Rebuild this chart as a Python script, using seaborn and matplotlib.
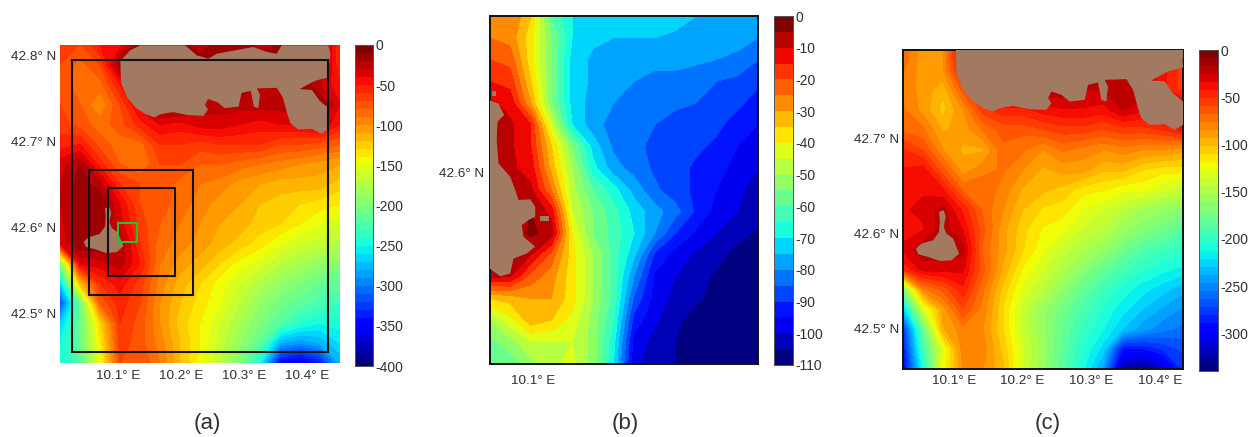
import numpy as np
import matplotlib
matplotlib.use("Agg")
import matplotlib.pyplot as plt
from matplotlib.patches import Polygon, Rectangle
import seaborn as sns

# depth grids, rows north to south, columns west to east (metres)
depth_a = [
 [-60,-70,-50,-45,-10,-10,-10,-30,-10,-10,-25,-20,-10,-10,-60],
 [-70,-85,-70,-15,-10,-10,-10,-10,-10,-10,-10,-10,-10,-10,-60],
 [-75,-85,-85,-50,-15,-10,-10,-10,-10,-10,-25,-30,-10,-30,-50],
 [-70,-80,-100,-70,-35,-10,-10,-25,-25,-25,-25,-25,-20,-10,-40],
 [-65,-75,-85,-75,-55,-40,-45,-35,-35,-40,-45,-40,-40,-30,-50],
 [-55,-50,-75,-85,-85,-60,-60,-65,-60,-60,-60,-70,-70,-75,-80],
 [-35,-20,-55,-80,-90,-70,-70,-80,-80,-85,-90,-95,-100,-105,-110],
 [-30,-15,-25,-60,-70,-70,-85,-90,-95,-105,-110,-115,-115,-115,-125],
 [-30,-15,-10,-40,-70,-75,-85,-95,-105,-110,-120,-125,-130,-135,-140],
 [-35,-10,-10,-35,-65,-80,-90,-100,-110,-115,-125,-130,-140,-150,-160],
 [-40,-10,-10,-20,-60,-85,-95,-105,-115,-125,-135,-150,-160,-165,-175],
 [-200,-40,-35,-25,-50,-90,-105,-115,-130,-145,-155,-170,-180,-190,-195],
 [-270,-120,-60,-45,-65,-95,-115,-130,-145,-160,-175,-190,-200,-210,-215],
 [-320,-210,-80,-55,-70,-100,-120,-135,-150,-170,-190,-205,-215,-225,-230],
 [-270,-210,-130,-60,-75,-100,-125,-140,-160,-180,-200,-220,-240,-250,-245],
 [-250,-210,-140,-65,-75,-95,-120,-140,-165,-190,-215,-280,-290,-280,-260],
 [-250,-220,-150,-70,-70,-90,-120,-145,-170,-200,-250,-350,-365,-340,-280],
]
depth_b = [
 [-25,-25,-35,-60,-70,-72,-72,-72,-72,-73,-75,-76,-76,-78],
 [-25,-27,-38,-55,-70,-74,-75,-75,-75,-76,-76,-77,-77,-80],
 [-20,-22,-38,-55,-72,-76,-77,-77,-78,-78,-79,-80,-82,-85],
 [-15,-17,-35,-55,-72,-76,-78,-80,-82,-82,-83,-85,-86,-89],
 [-9,-12,-30,-55,-72,-77,-80,-82,-83,-84,-85,-87,-89,-92],
 [-9,-9,-15,-45,-70,-78,-82,-84,-85,-87,-87,-89,-92,-95],
 [-9,-9,-15,-35,-55,-72,-81,-84,-86,-88,-89,-91,-95,-98],
 [-9,-9,-12,-32,-50,-68,-78,-82,-86,-88,-91,-93,-97,-100],
 [-9,-9,-9,-25,-48,-60,-68,-77,-84,-88,-91,-95,-99,-102],
 [-9,-9,-5,-12,-45,-55,-63,-72,-78,-83,-91,-97,-100,-103],
 [-9,-9,-4,-7,-40,-55,-62,-70,-80,-90,-96,-100,-103,-106],
 [-9,-9,-10,-22,-38,-50,-62,-74,-91,-97,-101,-103,-107,-108],
 [-9,-10,-22,-28,-38,-50,-62,-80,-96,-100,-103,-106,-108,-109],
 [-35,-33,-30,-30,-38,-50,-62,-86,-97,-102,-104,-107,-109,-110],
 [-50,-42,-32,-35,-42,-52,-65,-92,-99,-104,-107,-109,-110,-110],
 [-57,-52,-45,-45,-45,-52,-68,-97,-102,-105,-109,-110,-110,-110],
 [-60,-58,-52,-46,-44,-52,-70,-99,-102,-105,-109,-110,-110,-110],
]
depth_c = [
 [-70,-90,-85,-30,-20,-20,-20,-20,-20,-20,-20,-20,-20,-30,-40],
 [-75,-90,-85,-40,-20,-20,-20,-20,-20,-20,-20,-20,-20,-40,-55],
 [-80,-88,-100,-65,-25,-20,-20,-20,-20,-25,-25,-25,-20,-40,-55],
 [-75,-88,-105,-85,-55,-45,-45,-38,-35,-35,-38,-25,-32,-25,-20],
 [-70,-75,-95,-90,-75,-65,-65,-60,-55,-55,-60,-55,-55,-50,-40],
 [-50,-60,-85,-95,-95,-70,-75,-85,-75,-80,-85,-80,-85,-85,-90],
 [-42,-38,-65,-90,-80,-75,-85,-95,-90,-90,-100,-100,-110,-115,-115],
 [-35,-35,-42,-70,-70,-80,-95,-100,-105,-115,-118,-125,-125,-135,-140],
 [-35,-32,-22,-45,-70,-85,-102,-112,-115,-128,-135,-145,-155,-160,-165],
 [-38,-35,-20,-35,-65,-90,-108,-120,-125,-138,-145,-158,-168,-175,-185],
 [-32,-20,-20,-22,-70,-90,-110,-125,-140,-150,-160,-175,-188,-195,-200],
 [-50,-30,-30,-32,-65,-95,-120,-135,-150,-165,-180,-192,-203,-210,-215],
 [-170,-80,-65,-45,-75,-105,-130,-145,-162,-180,-195,-208,-218,-226,-235],
 [-230,-135,-90,-60,-80,-110,-140,-160,-175,-190,-205,-218,-230,-240,-248],
 [-280,-180,-95,-80,-85,-110,-140,-160,-180,-198,-212,-230,-243,-252,-258],
 [-290,-195,-130,-80,-80,-105,-135,-158,-182,-205,-225,-290,-290,-280,-270],
 [-300,-210,-125,-85,-85,-100,-135,-160,-185,-210,-242,-325,-335,-315,-280],
]

# coastlines (lon, lat)
mainland = [(10.1029,42.7933),(10.1039,42.7687),(10.1136,42.7511),(10.1282,42.7387),
 (10.1427,42.7317),(10.1573,42.7282),(10.1670,42.7317),(10.1864,42.7342),(10.2107,42.7306),
 (10.2350,42.7299),(10.2422,42.7370),(10.2374,42.7423),(10.2422,42.7493),(10.2568,42.7458),
 (10.2689,42.7387),(10.2908,42.7405),(10.2956,42.7563),(10.3102,42.7588),(10.3150,42.7405),
 (10.3223,42.7387),(10.3248,42.7546),(10.3199,42.7616),(10.3515,42.7623),(10.3612,42.7511),
 (10.3684,42.7317),(10.3733,42.7211),(10.3854,42.7141),(10.4073,42.7148),(10.4218,42.7088),
 (10.434,42.7141),(10.434,42.7387),(10.4194,42.7475),(10.4073,42.7599),(10.3879,42.7609),
 (10.4121,42.7704),(10.434,42.7746),(10.4333,42.7826),(10.437,42.8019),(10.4333,42.8116),
 (10.3593,42.8116),(10.3513,42.8019),(10.3354,42.8039),(10.3143,42.8097),(10.2561,42.8019),
 (10.2429,42.7961),(10.2243,42.8),(10.2058,42.8116),(10.1344,42.8116),(10.1185,42.8058)]
island = [(10.0786,42.6225),(10.0854,42.6243),(10.0883,42.6173),(10.0854,42.6067),
 (10.0893,42.5996),(10.0990,42.5944),(10.1039,42.5856),(10.1078,42.5785),(10.0966,42.5715),
 (10.0796,42.5708),(10.0626,42.5750),(10.0481,42.5778),(10.0447,42.5838),(10.0529,42.5891),
 (10.0699,42.5926),(10.0786,42.6014),(10.0796,42.6120)]
coast_b = [(10.0825,42.6213),(10.0861,42.6203),(10.0884,42.6169),(10.0857,42.6150),
 (10.0854,42.6096),(10.0861,42.6027),(10.0908,42.5988),(10.0928,42.5949),(10.0941,42.5920),
 (10.0988,42.5922),(10.1008,42.5900),(10.1008,42.5871),(10.0981,42.5861),(10.0954,42.5846),
 (10.0961,42.5812),(10.1008,42.5783),(10.0974,42.5763),(10.0921,42.5748),(10.0908,42.5704),
 (10.0868,42.5696),(10.0825,42.5719)]
islet_b1 = [(10.0834,42.6241),(10.0852,42.6241),(10.0852,42.6225),(10.0834,42.6225)]
islet_b2 = [(10.1028,42.5873),(10.1062,42.5873),(10.1062,42.5859),(10.1028,42.5859)]

# nested domain boxes in panel (a): lon0, lon1, lat0, lat1
boxes_black = [(10.0259,10.4333,42.456,42.795),(10.0529,10.2190,42.5217,42.6674),(10.0825,10.19,42.5434,42.6457)]
box_green = (10.0995,10.1291,42.5833,42.6054)

cbar_ticks_a = [0,-50,-100,-150,-200,-250,-300,-350,-400]
cbar_ticks_b = [0,-10,-20,-30,-40,-50,-60,-70,-80,-90,-100,-110]
cbar_ticks_c = [0,-50,-100,-150,-200,-250,-300]
lon_ticks_a = [10.1,10.2,10.3,10.4]
lat_ticks_a = [42.8,42.7,42.6,42.5]
lat_ticks_c = [42.7,42.6,42.5]

sns.set_style("white")
plt.rcParams['font.family'] = ['Liberation Sans', 'DejaVu Sans']
W, H = 1257, 437
LAND = '#a27a62'
TXT = '#303030'
fig = plt.figure(figsize=(W/100, H/100), dpi=100)

def box(x0, y0, x1, y1):
    return fig.add_axes([x0/W, 1-y1/H, (x1-x0)/W, (y1-y0)/H])

def panel(rect, crect, grid, lim, vmin, vmax, nlev, cticks, lons, lats, frame, lands, label, lx, ly, padx, pady):
    ax, cax = box(*rect), box(*crect)
    arr = np.array(grid, float)
    nr, nc = arr.shape
    cmap = plt.get_cmap("jet").resampled(nlev)
    sns.heatmap(arr, ax=ax, cbar_ax=cax, cmap=cmap, vmin=vmin, vmax=vmax,
                xticklabels=False, yticklabels=False)
    lon0, lon1, lat0, lat1 = lim
    fx = lambda v: (np.asarray(v)-lon0)/(lon1-lon0)*nc
    fy = lambda v: (lat1-np.asarray(v))/(lat1-lat0)*nr
    ax.contourf(np.linspace(0, nc, nc), np.linspace(0, nr, nr), arr,
                levels=np.linspace(vmin, vmax, nlev+1), cmap=cmap, vmin=vmin, vmax=vmax)
    for poly in lands:
        p = np.array(poly)
        ax.add_patch(Polygon(np.c_[fx(p[:,0]), fy(p[:,1])], closed=True, fc=LAND, ec='none', zorder=3))
    ax.set_xticks(fx(lons), [f"{v:.1f}° E" for v in lons], rotation=0, fontsize=9.7, color=TXT)
    ax.set_yticks(fy(lats), [f"{v:.1f}° N" for v in lats], rotation=0, fontsize=9.7, color=TXT)
    ax.tick_params(length=0, bottom=False, left=False, labelbottom=True, labelleft=True)
    ax.tick_params(axis='x', pad=padx)
    ax.tick_params(axis='y', pad=pady)
    for s in ax.spines.values():
        s.set_visible(frame); s.set_color('#111111'); s.set_linewidth(1.4)
    cax.set_yticks(cticks, [str(v) for v in cticks], fontsize=10, color=TXT)
    cax.tick_params(length=0, right=False, pad=1.5)
    for s in cax.spines.values():
        s.set_visible(True); s.set_color('#555555'); s.set_linewidth(0.7)
    fig.text(lx/W, 1-ly/H, label, fontsize=16, color=TXT, ha='center', va='center')
    return ax, fx, fy

ax, fx, fy = panel((60,45,340,363),(355,45,373,366), depth_a, (10.007,10.452,42.443,42.812),
                   -400,0,40,cbar_ticks_a,lon_ticks_a,lat_ticks_a,False,[mainland,island],"(a)",207,424,5,3)
for lo0,lo1,la0,la1 in boxes_black:
    ax.add_patch(Rectangle((fx(lo0),fy(la1)),fx(lo1)-fx(lo0),fy(la0)-fy(la1),fc='none',ec='#111111',lw=1.5,zorder=4))
lo0,lo1,la0,la1 = box_green
ax.add_patch(Rectangle((fx(lo0),fy(la1)),fx(lo1)-fx(lo0),fy(la0)-fy(la1),fc='none',ec='#22c32e',lw=1.5,zorder=5))

panel((489.5,16,758,363.5),(774,16,793,365), depth_b, (10.0825,10.19,42.544,42.646),
      -110,0,22,cbar_ticks_b,[10.1],[42.6],True,[coast_b,islet_b1,islet_b2],"(b)",625,424,8,4)
panel((903,50,1183,369),(1199,50,1218,371), depth_c, (10.026,10.434,42.457,42.793),
      -340,0,40,cbar_ticks_c,lon_ticks_a,lat_ticks_c,True,[mainland,island],"(c)",1048,424,4,3)

fig.savefig("out.png", dpi=100)
